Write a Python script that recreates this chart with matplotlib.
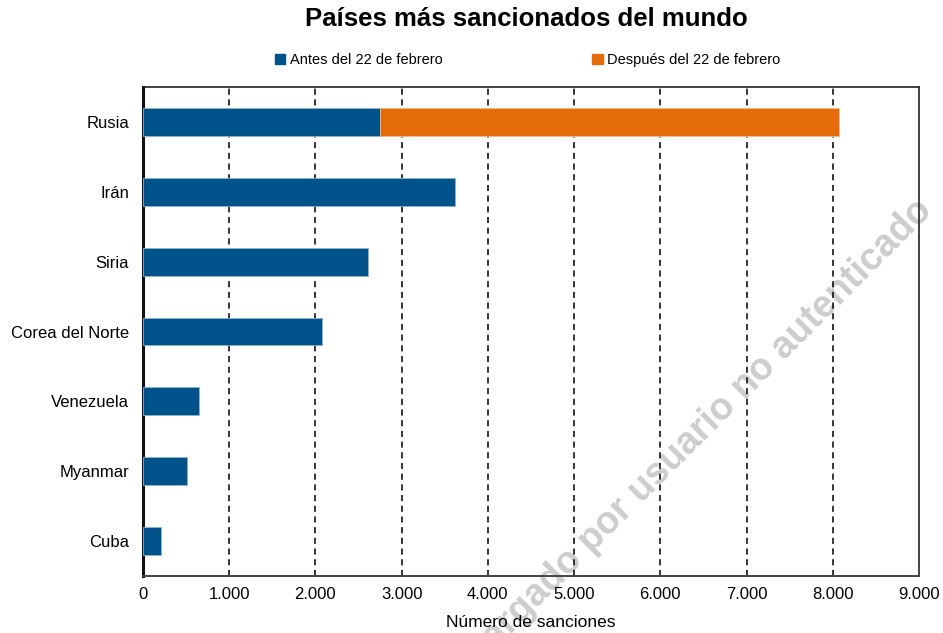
import matplotlib.pyplot as plt
from matplotlib.ticker import FuncFormatter
from matplotlib.patches import Patch

plt.rcParams['font.family'] = ['Liberation Sans', 'DejaVu Sans']

# data
paises = ['Rusia', 'Irán', 'Siria', 'Corea del Norte', 'Venezuela', 'Myanmar', 'Cuba']
antes = [2750, 3620, 2610, 2080, 650, 510, 210]
despues = [5320, 0, 0, 0, 0, 0, 0]
xticks = [0, 1000, 2000, 3000, 4000, 5000, 6000, 7000, 8000, 9000]

azul = '#00538a'
naranja = '#e46c0a'

fig = plt.figure(figsize=(9.43, 6.33), dpi=100)
ax = fig.add_axes([0.1516, 0.09, 0.8229, 0.7726])

y = list(range(len(paises)))[::-1]
ax.barh(y, antes, height=0.4, color=azul, edgecolor='#8fb3cc', linewidth=0.6, zorder=3)
ax.barh(y, despues, left=antes, height=0.4, color=naranja, edgecolor='#f3b98a',
        linewidth=[0.6 if d > 0 else 0 for d in despues], zorder=3)

ax.set_xlim(0, 9000)
ax.set_ylim(-0.5, len(paises) - 0.5)
ax.set_yticks(y)
ax.set_yticklabels(paises, fontsize=12)
ax.set_xticks(xticks)
ax.xaxis.set_major_formatter(FuncFormatter(lambda v, p: f'{int(v):,}'.replace(',', '.')))
ax.tick_params(axis='x', labelsize=12, length=0, pad=8)
ax.tick_params(axis='y', length=0, pad=10)

for v in xticks[1:-1]:
    ax.axvline(v, color='black', linestyle=(0, (4, 3)), linewidth=1.1, zorder=2)

ax.spines['left'].set_linewidth(2.2)
ax.spines['left'].set_color('#111111')
ax.spines['bottom'].set_color('#444444')
ax.spines['bottom'].set_linewidth(1.4)
ax.spines['top'].set_color('#222222')
ax.spines['top'].set_linewidth(1.2)
ax.spines['right'].set_color('#222222')
ax.spines['right'].set_linewidth(1.2)

ax.set_xlabel('Número de sanciones', fontsize=12.5, labelpad=9)

fig.text(0.558, 0.97, 'Países más sancionados del mundo', fontsize=18.5,
         fontweight='bold', ha='center', va='center')

handles = [Patch(color=azul, label='Antes del 22 de febrero'),
           Patch(color=naranja, label='Después del 22 de febrero')]
fig.legend(handles=handles, loc='center', bbox_to_anchor=(0.5595, 0.905), ncol=2,
           frameon=False, fontsize=10.5, handlelength=0.7, handleheight=0.7,
           handletextpad=0.3, columnspacing=10.3)

# watermark, behind the dashed lines
ax.text(934 / 943, 1 - 212 / 633, 'Descargado por usuario no autenticado',
        transform=fig.transFigure, clip_on=False,
        fontsize=27, fontweight='bold', color='#cdcdcd',
        rotation=45, rotation_mode='anchor', ha='right', va='baseline', zorder=1)

fig.savefig('out.png', dpi=100)
